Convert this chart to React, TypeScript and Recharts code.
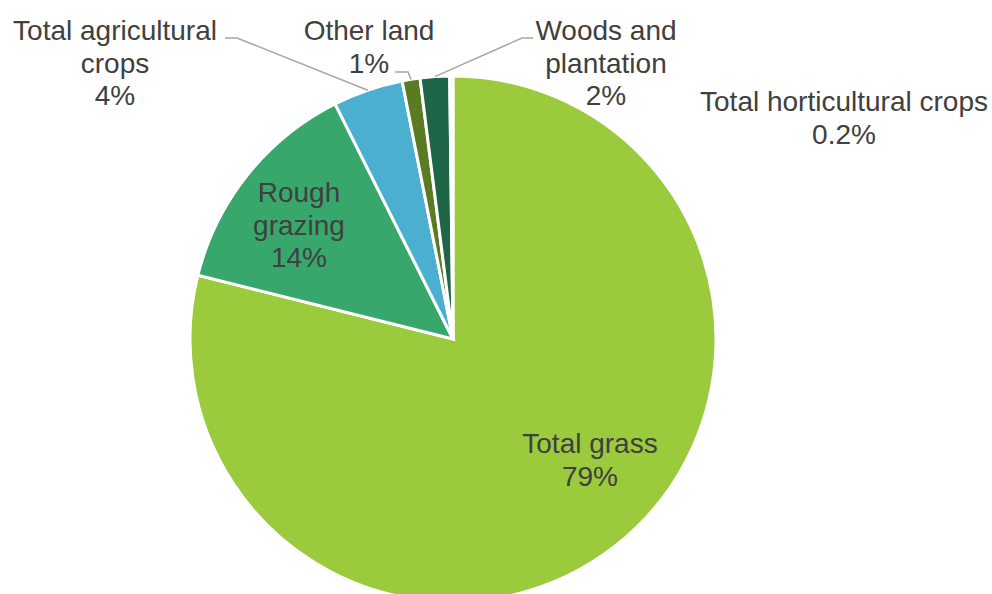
import React from 'react';
import { PieChart, Pie, Cell } from 'recharts';

const categories = [
  'Total grass',
  'Rough grazing',
  'Total agricultural crops',
  'Other land',
  'Woods and plantation',
  'Total horticultural crops',
];
const shares = [78.9, 13.7, 4.3, 1.1, 1.8, 0.2];
const colors = ['#9BCA3C', '#38A76C', '#4BB0CF', '#5B7B22', '#1F6548', '#C9E3A0'];

// label placement relative to the pie centre: first baseline, words per line, optional leader
const labelLayout = [
  { dx: 137, dy: 114, wrap: [2] },
  { dx: -154, dy: -137, wrap: [1, 1] },
  { dx: -338, dy: -299, wrap: [2, 1], end: [-228, -301], elbow: [-216, -301] },
  { dx: -84, dy: -299, wrap: [2], end: [-58, -267], elbow: [-45, -267] },
  { dx: 153, dy: -299, wrap: [2, 1], end: [80, -301], elbow: [69, -301] },
  { dx: 391, dy: -228, wrap: [3] },
];

const data = categories.map((name, i) => ({ name, value: shares[i] }));

const RAD = Math.PI / 180;
const LINE_H = 32.5;

const fmt = (v: number) => (v < 1 ? v.toFixed(1) : String(Math.round(v))) + '%';

function renderLabel(props: any) {
  const { cx, cy, midAngle, outerRadius, index } = props;
  const lay = labelLayout[index];
  const words = categories[index].split(' ');
  const lines: string[] = [];
  let k = 0;
  lay.wrap.forEach((n) => {
    lines.push(words.slice(k, k + n).join(' '));
    k += n;
  });
  lines.push(fmt(shares[index]));
  const x = cx + lay.dx;
  const y = cy + lay.dy;
  let leader = null;
  if (lay.end && lay.elbow) {
    const px = cx + outerRadius * Math.cos(-midAngle * RAD);
    const py = cy + outerRadius * Math.sin(-midAngle * RAD);
    leader = (
      <polyline
        points={`${cx + lay.end[0]},${cy + lay.end[1]} ${cx + lay.elbow[0]},${cy + lay.elbow[1]} ${px},${py}`}
        fill="none"
        stroke="#A6A6A6"
        strokeWidth={1.5}
      />
    );
  }
  return (
    <g key={`lbl-${index}`}>
      {leader}
      <text
        x={x}
        y={y}
        textAnchor="middle"
        fill="#404040"
        fontSize={28}
        fontFamily="'Liberation Sans', Arial, sans-serif"
      >
        {lines.map((t, i) => (
          <tspan key={i} x={x} y={y + i * LINE_H}>
            {t}
          </tspan>
        ))}
      </text>
    </g>
  );
}

export default function App() {
  return (
    <div style={{ position: 'absolute', left: 0, top: 0, width: 992, height: 594, background: '#fff' }}>
      <PieChart width={992} height={594} margin={{ top: 0, right: 0, bottom: 0, left: 0 }}>
        <Pie
          data={data}
          dataKey="value"
          nameKey="name"
          cx={453}
          cy={339}
          outerRadius={263}
          startAngle={90}
          endAngle={-270}
          stroke="#FFFFFF"
          strokeWidth={3}
          label={renderLabel}
          labelLine={false}
          isAnimationActive={false}
        >
          {data.map((d, i) => (
            <Cell key={d.name} fill={colors[i]} />
          ))}
        </Pie>
      </PieChart>
    </div>
  );
}
